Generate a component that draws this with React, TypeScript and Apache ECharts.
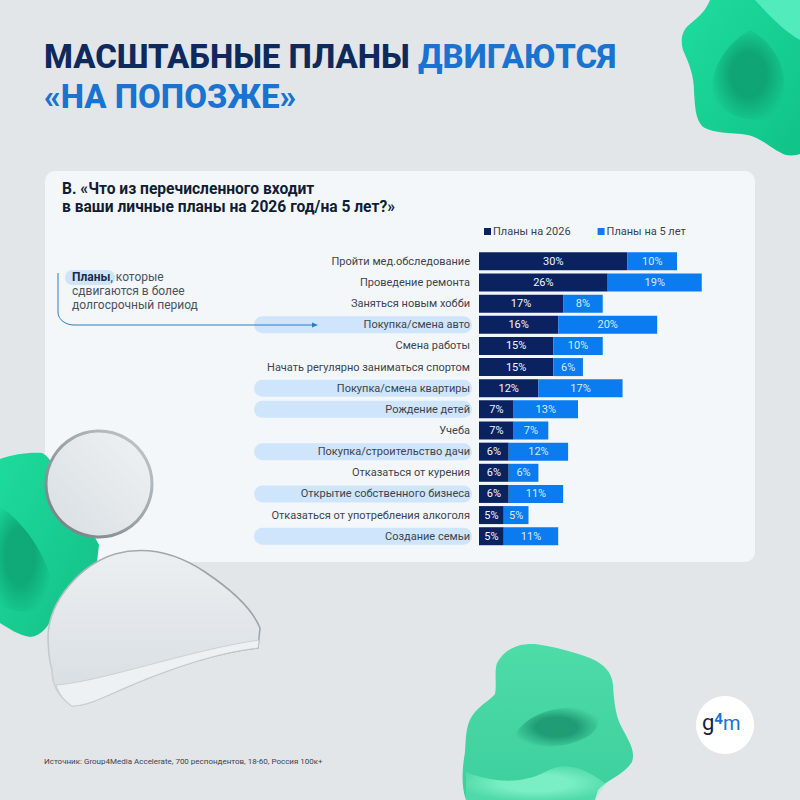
import React, { useEffect, useRef } from 'react';
import * as echarts from 'echarts';

const categories = [
  'Пройти мед.обследование',
  'Проведение ремонта',
  'Заняться новым хобби',
  'Покупка/смена авто',
  'Смена работы',
  'Начать регулярно заниматься спортом',
  'Покупка/смена квартиры',
  'Рождение детей',
  'Учеба',
  'Покупка/строительство дачи',
  'Отказаться от курения',
  'Открытие собственного бизнеса',
  'Отказаться от употребления алкоголя',
  'Создание семьи',
];
const plans2026 = [30, 26, 17, 16, 15, 15, 12, 7, 7, 6, 6, 6, 5, 5];
const plans5y = [10, 19, 8, 20, 10, 6, 17, 13, 7, 12, 6, 11, 5, 11];
// rows with the pale blue pill behind the label
const shifted = [0, 0, 0, 1, 0, 0, 1, 1, 0, 1, 0, 1, 0, 1];

const FONT = 'Roboto';

// decorative shapes
echarts.graphic.registerShape('blobTop', echarts.graphic.extendPath(
  'M710 0C706 10 700 16 690 24C682 30 680 40 683 50C690 66 694 76 694 92C695 105 695 118 702 126C712 134 730 132 748 135C762 138 772 150 786 155C792 156 797 155 800 154L800 0Z', {}));
echarts.graphic.registerShape('blobTopDark', echarts.graphic.extendPath(
  'M750 30C778 45 790 75 782 104C770 128 732 122 716 102C706 82 718 48 750 30Z', {}));
echarts.graphic.registerShape('blobTopLight', echarts.graphic.extendPath(
  'M755 0C768 14 782 30 800 40L800 0Z', {}));
echarts.graphic.registerShape('blobLeft', echarts.graphic.extendPath(
  'M0 459C14 454 30 452 42 453C50 456 56 470 66 490C78 512 92 530 99 545L97 562C82 575 62 590 56 610C50 625 42 636 30 637C18 635 8 628 0 623Z', {}));
echarts.graphic.registerShape('blobLeftDark', echarts.graphic.extendPath(
  'M-10 500C18 515 40 545 50 575C52 600 40 610 26 612C10 612 0 605 -10 598Z', {}));
echarts.graphic.registerShape('blobBottom', echarts.graphic.extendPath(
  'M497 663C505 648 520 643 535 644C552 646 574 652 590 658C604 664 612 672 613 685C614 700 615 712 620 724C628 740 636 750 632 762C624 775 606 780 598 790L595 800L466 800C461 785 462 770 465 752C466 735 466 722 475 712C482 704 490 700 495 694C497 684 494 672 497 663Z', {}));
echarts.graphic.registerShape('blobBottomDark', echarts.graphic.extendPath(
  'M515 735C525 715 555 705 585 708C605 716 600 730 585 738C560 750 530 750 515 735Z', {}));
echarts.graphic.registerShape('blobBottomLight', echarts.graphic.extendPath(
  'M466 772C490 782 520 785 545 772C565 760 585 768 606 784L595 800L466 800Z', {}));
echarts.graphic.registerShape('glassBody', echarts.graphic.extendPath(
  'M48 635C50 600 80 565 115 554C145 546 175 552 205 572C232 590 252 608 260 628L258 648C220 652 170 668 120 690C100 699 85 706 72 706C60 698 52 686 52 670C49 660 48 648 48 635Z', {}));
echarts.graphic.registerShape('glassLip', echarts.graphic.extendPath(
  'M56 685C100 682 190 650 259 640L258 648C220 652 170 668 120 690C100 699 85 706 72 706C64 700 59 694 56 685Z', {}));
echarts.graphic.registerShape('planLine', echarts.graphic.extendPath(
  'M58 273L58 312C58 320 66 325 74 325L312 325', {}));

const linear = (x: number, y: number, x2: number, y2: number, a: string, b: string) =>
  new echarts.graphic.LinearGradient(x, y, x2, y2, [
    { offset: 0, color: a },
    { offset: 1, color: b },
  ]);
// soft patch that fades out towards its edge
const soft = (color: string, clear: string) =>
  new echarts.graphic.RadialGradient(0.5, 0.5, 0.55, [
    { offset: 0, color },
    { offset: 0.45, color },
    { offset: 1, color: clear },
  ]);

const backdrop = [
  { type: 'blobTop', z: -3, style: { fill: linear(0, 0, 1, 1, '#1fdc9e', '#10c388') } },
  { type: 'blobTopDark', z: -3, style: { fill: soft('rgba(14,160,112,0.9)', 'rgba(14,160,112,0)') } },
  { type: 'blobTopLight', z: -3, style: { fill: '#5df0c2', opacity: 0.85 } },
  { type: 'rect', z: -2, shape: { x: 45, y: 171, width: 710, height: 391, r: 10 }, style: { fill: '#f4f7fa' } },
  { type: 'blobLeft', z: -1, style: { fill: linear(0, 0, 1, 1, '#1ddb9c', '#14bf86') } },
  { type: 'blobLeftDark', z: -1, style: { fill: soft('rgba(13,165,115,0.9)', 'rgba(13,165,115,0)') } },
  { type: 'blobBottom', z: -1, style: { fill: linear(0, 0, 0, 1, '#4edca8', '#3ccf9e') } },
  { type: 'blobBottomDark', z: -1, style: { fill: soft('rgba(28,150,112,0.9)', 'rgba(28,150,112,0)') } },
  { type: 'blobBottomLight', z: -1, style: { fill: soft('rgba(125,240,198,0.95)', 'rgba(125,240,198,0.3)') } },
];

const glass = [
  {
    type: 'circle', z: 10,
    shape: { cx: 99, cy: 484, r: 53 },
    style: { fill: linear(1, 0, 0, 1, '#eff2f4', '#d8dee3'), stroke: linear(1, 0, 0, 1, '#c5ccd1', '#71797f'), lineWidth: 3 },
  },
  {
    type: 'glassBody', z: 10,
    style: { fill: linear(0, 0, 0, 1, '#eceff2', '#d7dde2'), stroke: linear(1, 0, 0, 1, '#8e979e', '#cfd5d9'), lineWidth: 1.6 },
  },
  { type: 'glassLip', z: 11, style: { fill: '#eef1f3', stroke: '#c3cbd0', lineWidth: 0.8 } },
];

const headline = [
  {
    type: 'text', z: 3, x: 44, y: 40,
    style: {
      text: '{a|МАСШТАБНЫЕ ПЛАНЫ }{b|ДВИГАЮТСЯ}',
      rich: {
        a: { fill: '#0e2a5c', font: `800 33px ${FONT}` },
        b: { fill: '#1a73d0', font: `800 33px ${FONT}` },
      },
    },
  },
  {
    type: 'text', z: 3, x: 44, y: 80,
    style: { text: '«НА ПОПОЗЖЕ»', fill: '#1a73d0', font: `800 33px ${FONT}` },
  },
  {
    type: 'text', z: 3, x: 62, y: 180,
    style: {
      text: 'В. «Что из перечисленного входит\nв ваши личные планы на 2026 год/на 5 лет?»',
      fill: '#111d33', font: `700 15.6px ${FONT}`, lineHeight: 18.3,
    },
  },
];

const annotation = [
  { type: 'rect', z: 3, shape: { x: 65, y: 270, width: 50, height: 15, r: 7 }, style: { fill: '#cde4fb' } },
  { type: 'planLine', z: 3, style: { fill: 'none', stroke: '#2b7cc0', lineWidth: 1 } },
  { type: 'polygon', z: 3, shape: { points: [[312, 322.5], [318, 325], [312, 327.5]] }, style: { fill: '#2b7cc0' } },
  {
    type: 'text', z: 4, x: 72, y: 270,
    style: {
      text: '{b|Планы}{r|, которые}\n{r|сдвигаются в более}\n{r|долгосрочный период}',
      rich: {
        b: { fill: '#1b2c4a', font: `700 12px ${FONT}`, lineHeight: 14 },
        r: { fill: '#4a5360', font: `400 12px ${FONT}`, lineHeight: 14 },
      },
    },
  },
];

const footer = [
  {
    type: 'text', z: 3, x: 44, y: 757,
    style: { text: 'Источник: Group4Media Accelerate, 700 респондентов, 18-60, Россия 100к+', fill: '#3c4450', font: `400 8px ${FONT}` },
  },
  { type: 'circle', z: 3, shape: { cx: 725, cy: 725, r: 29 }, style: { fill: '#ffffff' } },
  {
    type: 'text', z: 4, x: 702, y: 711,
    style: {
      text: '{g|g}{f|4}{m|m}',
      rich: {
        g: { fill: '#14233c', font: `400 22px ${FONT}`, verticalAlign: 'bottom' },
        f: { fill: '#1a73d0', font: `700 15px ${FONT}`, verticalAlign: 'top' },
        m: { fill: '#1a73d0', font: `400 20px ${FONT}`, verticalAlign: 'bottom' },
      },
    },
  },
];

export default function App() {
  const chartRef = useRef<HTMLDivElement>(null);

  useEffect(() => {
    if (!chartRef.current) return;
    const chart = echarts.init(chartRef.current, null, { renderer: 'svg' });

    chart.setOption({
      animation: false,
      backgroundColor: '#e2e6e9',
      textStyle: { fontFamily: FONT },
      graphic: { elements: [...backdrop, ...headline, ...annotation, ...footer, ...glass] },
      legend: {
        left: 479,
        top: 221,
        itemWidth: 7,
        itemHeight: 7,
        itemGap: 27,
        icon: 'rect',
        data: ['Планы на 2026', 'Планы на 5 лет'],
        textStyle: { fontFamily: FONT, fontSize: 11, color: '#3a4350', padding: [1, 0, 0, -3] },
      },
      grid: [
        { left: 479, top: 250.8, width: 247.5, height: 296 },
        { left: 254, top: 250.8, width: 218, height: 296 },
      ],
      xAxis: [
        { type: 'value', gridIndex: 0, min: 0, max: 50, show: false },
        { type: 'value', gridIndex: 1, min: 0, max: 1, show: false },
      ],
      yAxis: [
        {
          type: 'category',
          gridIndex: 0,
          inverse: true,
          data: categories,
          z: 5,
          axisLine: { show: false },
          axisTick: { show: false },
          axisLabel: { margin: 9, fontFamily: FONT, fontSize: 11, color: '#3c4450', interval: 0 },
        },
        { type: 'category', gridIndex: 1, inverse: true, data: categories, show: false },
      ],
      series: [
        {
          name: 'highlight',
          type: 'bar',
          xAxisIndex: 1,
          yAxisIndex: 1,
          barWidth: 17,
          z: 1,
          silent: true,
          data: shifted,
          itemStyle: { color: '#cfe5fb', borderRadius: 8.5 },
        },
        {
          name: 'Планы на 2026',
          type: 'bar',
          stack: 'plans',
          barWidth: 18,
          data: plans2026,
          itemStyle: { color: '#0b2260' },
          label: { show: true, position: 'inside', formatter: '{c}%', fontFamily: FONT, fontSize: 11, color: '#f2f6ff' },
        },
        {
          name: 'Планы на 5 лет',
          type: 'bar',
          stack: 'plans',
          barWidth: 18,
          data: plans5y,
          itemStyle: { color: '#0b7bf0' },
          label: { show: true, position: 'inside', formatter: '{c}%', fontFamily: FONT, fontSize: 11, color: '#d3ecff' },
        },
      ],
    });

    return () => chart.dispose();
  }, []);

  return <div ref={chartRef} style={{ width: 800, height: 800, position: 'absolute', left: 0, top: 0 }} />;
}
